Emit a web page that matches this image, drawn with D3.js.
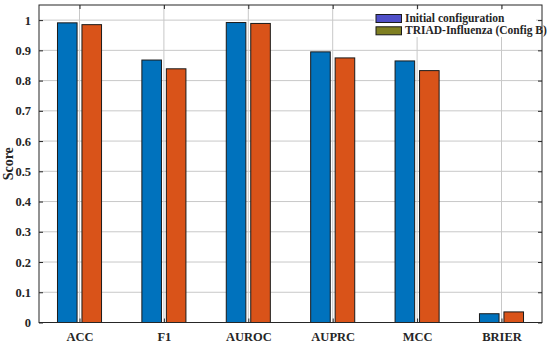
<!DOCTYPE html>
<html>
    <head>
        <title>Scores</title>
        <script src="https://d3js.org/d3.v7.min.js"></script>
        <style>
         body { margin: 0; background: #fff; }
         text { font-family: "Liberation Serif", "Times New Roman", serif; font-weight: bold; }
        </style>
    </head>
    <body>
        <svg width="550" height="343"></svg>
        <script>
         const metrics = ["ACC", "F1", "AUROC", "AUPRC", "MCC", "BRIER"];
         const initialScores = [0.991, 0.868, 0.992, 0.895, 0.865, 0.029];
         const triadScores = [0.985, 0.839, 0.989, 0.875, 0.833, 0.035];
         const seriesNames = ["Initial configuration", "TRIAD-Influenza (Config B)"];
         const yTicks = [0, 0.1, 0.2, 0.3, 0.4, 0.5, 0.6, 0.7, 0.8, 0.9, 1];

         const svg = d3.select("svg");
         const plotLeft = 39, plotRight = 542, plotTop = 5, plotBottom = 322.5;

         const xScale = d3.scaleLinear().domain([0.52, 6.48]).range([plotLeft, plotRight]);
         const yScale = d3.scaleLinear().domain([0, 1.05]).range([plotBottom, plotTop]);

         const g = svg.append("g");

         // grid
         g.selectAll(".hgrid").data(yTicks).join("line")
          .attr("x1", plotLeft).attr("x2", plotRight)
          .attr("y1", d => yScale(d)).attr("y2", d => yScale(d))
          .attr("stroke", "#c8c8c8").attr("stroke-width", 1);
         g.selectAll(".vgrid").data(metrics).join("line")
          .attr("x1", (d, i) => xScale(i + 1)).attr("x2", (d, i) => xScale(i + 1))
          .attr("y1", plotTop).attr("y2", plotBottom)
          .attr("stroke", "#c8c8c8").attr("stroke-width", 1);

         // bars
         const barW = 0.232, off = 0.145;
         const series = [
             {vals: initialScores, fill: "#0072BD", dx: -off},
             {vals: triadScores, fill: "#D95319", dx: off}
         ];
         series.forEach(s => {
             g.append("g").selectAll("rect").data(s.vals).join("rect")
              .attr("x", (d, i) => xScale(i + 1 + s.dx - barW / 2))
              .attr("width", xScale(barW) - xScale(0))
              .attr("y", d => yScale(d))
              .attr("height", d => plotBottom - yScale(d))
              .attr("fill", s.fill)
              .attr("stroke", "#1a1a1a").attr("stroke-width", 1);
         });

         // axes box with inward ticks
         const axisG = svg.append("g");
         axisG.append("rect").attr("x", plotLeft).attr("y", plotTop)
              .attr("width", plotRight - plotLeft).attr("height", plotBottom - plotTop)
              .attr("fill", "none").attr("stroke", "#262626").attr("stroke-width", 1);
         const yAxisL = d3.axisLeft(yScale).tickValues(yTicks).tickSizeInner(-4).tickSizeOuter(0)
                          .tickPadding(8).tickFormat(d => d === 0 || d === 1 ? d3.format("d")(d) : d3.format(".1f")(d));
         const yG = axisG.append("g").attr("transform", `translate(${plotLeft},0)`).call(yAxisL);
         const yAxisR = d3.axisRight(yScale).tickValues(yTicks).tickSizeInner(-4).tickSizeOuter(0).tickFormat("");
         const yR = axisG.append("g").attr("transform", `translate(${plotRight},0)`).call(yAxisR);
         const xAxisB = d3.axisBottom(xScale).tickValues([1, 2, 3, 4, 5, 6]).tickSizeInner(-4).tickSizeOuter(0)
                          .tickPadding(10).tickFormat(d => metrics[d - 1]);
         const xG = axisG.append("g").attr("transform", `translate(0,${plotBottom})`).call(xAxisB);
         const xAxisT = d3.axisTop(xScale).tickValues([1, 2, 3, 4, 5, 6]).tickSizeInner(-4).tickSizeOuter(0).tickFormat("");
         const xT = axisG.append("g").attr("transform", `translate(0,${plotTop})`).call(xAxisT);
         [yG, yR, xG, xT].forEach(a => {
             a.select(".domain").remove();
             a.selectAll("line").attr("stroke", "#262626");
             a.selectAll("text").attr("fill", "#262626").style("font-size", "12.5px")
              .style("font-family", "'Liberation Serif', serif").style("font-weight", "bold");
         });

         // Y label
         svg.append("text")
            .attr("text-anchor", "middle")
            .attr("transform", `translate(13,${(plotTop + plotBottom) / 2}) rotate(-90)`)
            .attr("fill", "#262626")
            .style("font-size", "14px")
            .text("Score");

         // legend
         const legendColors = ["#4F4FC8", "#7F7F22"];
         const leg = svg.append("g").attr("transform", "translate(374,10)");
         leg.append("rect").attr("x", 0).attr("y", 0).attr("width", 162).attr("height", 27).attr("fill", "#fff");
         seriesNames.forEach((name, i) => {
             leg.append("rect").attr("x", 2).attr("y", 4.5 + i * 12.3).attr("width", 25.5).attr("height", 8)
                .attr("fill", legendColors[i]).attr("stroke", "#1a1a1a").attr("stroke-width", 1);
             leg.append("text").attr("x", 31).attr("y", 12 + i * 12.3)
                .attr("fill", "#262626").style("font-size", "11.5px")
                .text(name);
         });
        </script>
    </body>
</html>
